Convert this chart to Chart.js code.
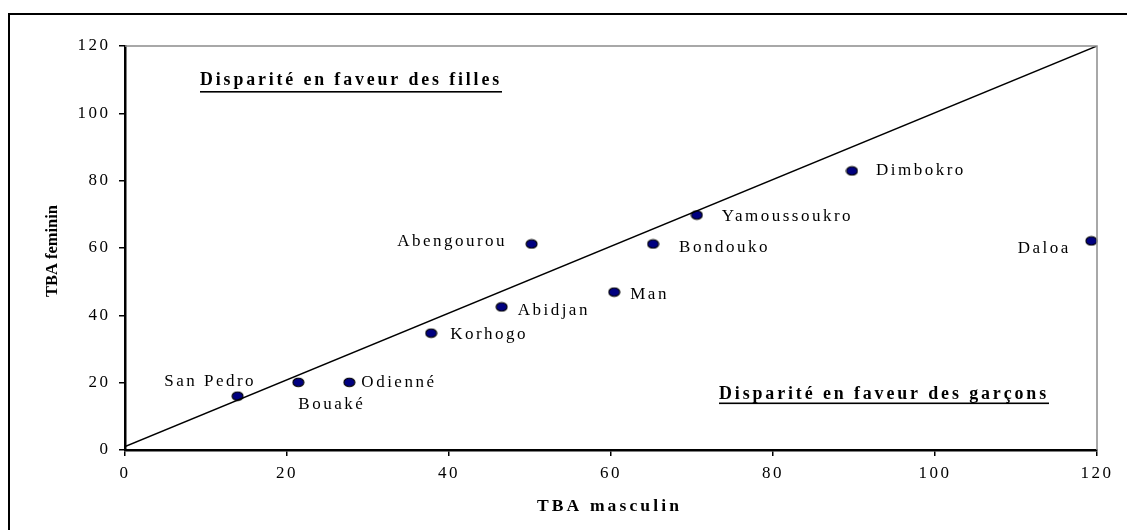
<!DOCTYPE html>
<html><head><meta charset="utf-8">
<script src="https://cdn.jsdelivr.net/npm/chart.js@4/dist/chart.umd.min.js"></script>
<style>html,body{margin:0;padding:0;background:#fff;overflow:hidden}#wrap{width:1127px;height:530px;position:relative}</style>
</head><body><div id="wrap"><canvas id="c" width="1127" height="530"></canvas></div>
<script>
const cities = ["San Pedro","Bouaké","Odienné","Korhogo","Abidjan","Abengourou","Man","Bondouko","Yamoussoukro","Dimbokro","Daloa"];
const tbaMasculin = [13.9, 21.4, 27.7, 37.8, 46.5, 50.2, 60.4, 65.2, 70.6, 89.75, 119.3];
const tbaFeminin  = [16.0, 20.1, 20.1, 34.7, 42.5, 61.2, 46.9, 61.2, 69.8, 82.9, 62.1];
const parityLineX = [0, 120];
const parityLineY = [1, 120];
const xTicks = [0, 20, 40, 60, 80, 100, 120];
const yTicks = [0, 20, 40, 60, 80, 100, 120];
const xTitle = "TBA masculin";
const yTitle = "TBA feminin";
const noteGirls = "Disparité en faveur des filles";
const noteBoys = "Disparité en faveur des garçons";

// label placement relative to point (style only)
const labelPos = {
  "San Pedro":[18.5,-15,'right'], "Bouaké":[0,22,'left'], "Odienné":[12,0,'left'],
  "Korhogo":[19,1,'left'], "Abidjan":[16,4,'left'], "Abengourou":[-24.5,-2,'right'],
  "Man":[16,2,'left'], "Bondouko":[26,4,'left'], "Yamoussoukro":[25,1.5,'left'],
  "Dimbokro":[24,0,'left'], "Daloa":[-20.5,7.5,'right']
};
const SERIF = '"Liberation Serif","DejaVu Serif",serif';
const SP = '2.5px';

// elliptical marker
const marker = document.createElement('canvas');
marker.width = 13; marker.height = 11;
(function(){ const m=marker.getContext('2d'); m.beginPath(); m.ellipse(6.5,5.5,5.5,4.3,0,0,Math.PI*2);
  m.fillStyle='#000080'; m.fill(); m.lineWidth=1.1; m.strokeStyle='#000'; m.stroke(); })();

const spacingPlugin = {
  id:'spacing',
  beforeLayout(chart){ chart.ctx.letterSpacing=SP; },
  beforeDraw(chart){
    const ctx=chart.ctx; ctx.letterSpacing=SP;
    ctx.save(); ctx.fillStyle='#fff'; ctx.fillRect(0,0,chart.width,chart.height); ctx.restore();
  },
  afterDraw(chart){
    const ctx=chart.ctx, a=chart.chartArea, xs=chart.scales.x, ys=chart.scales.y;
    ctx.save();
    // outer frame
    ctx.strokeStyle='#000'; ctx.lineWidth=2;
    ctx.beginPath(); ctx.moveTo(9,540); ctx.lineTo(9,14); ctx.lineTo(1140,14); ctx.stroke();
    // plot area top/right border (grey)
    ctx.strokeStyle='#8c8c8c'; ctx.lineWidth=1.5;
    ctx.beginPath(); ctx.moveTo(a.left,a.top); ctx.lineTo(a.right,a.top); ctx.lineTo(a.right,a.bottom); ctx.stroke();
    // point labels
    ctx.fillStyle='#000'; ctx.font='17px '+SERIF; ctx.textBaseline='middle'; ctx.letterSpacing=SP;
    cities.forEach((c,i)=>{
      const px=xs.getPixelForValue(tbaMasculin[i]), py=ys.getPixelForValue(tbaFeminin[i]);
      const p=labelPos[c]; ctx.textAlign=p[2];
      ctx.fillText(c, px+p[0], py+p[1]);
    });
    // notes
    ctx.font='bold 18px '+SERIF; ctx.letterSpacing='2.9px'; ctx.textAlign='left'; ctx.textBaseline='alphabetic';
    const drawNote=(t,x,y,uy,right)=>{
      const w=ctx.measureText(t).width; const sx=(right-x)/w;
      ctx.save(); ctx.translate(x,y); ctx.scale(sx,1); ctx.fillText(t,0,0); ctx.restore();
      ctx.fillRect(x,uy,right-x,1.6); };
    drawNote(noteGirls, 200, 85, 91, 502);
    drawNote(noteBoys, 719, 399, 402.5, 1049);
    // axis titles
    ctx.font='bold 17px '+SERIF; ctx.letterSpacing='3px'; ctx.textAlign='left'; ctx.textBaseline='alphabetic';
    let w=ctx.measureText(xTitle).width;
    ctx.save(); ctx.translate(537,511); ctx.scale(145/w,1); ctx.fillText(xTitle,0,0); ctx.restore();
    ctx.letterSpacing='0px';
    w=ctx.measureText(yTitle).width;
    ctx.save(); ctx.translate(57,297); ctx.rotate(-Math.PI/2); ctx.scale(92/w,1); ctx.fillText(yTitle,0,0); ctx.restore();
    ctx.restore();
  }
};

new Chart(document.getElementById('c'), {
  data:{ datasets:[
    { type:'line', data: parityLineX.map((x,i)=>({x, y:parityLineY[i]})), borderColor:'#000', borderWidth:1.5,
      pointRadius:0, fill:false, tension:0 },
    { type:'scatter', data: tbaMasculin.map((x,i)=>({x, y:tbaFeminin[i]})), pointStyle: marker,
      backgroundColor:'#000080', borderColor:'#000', pointRadius:5, clip:false }
  ]},
  options:{
    responsive:false, animation:false, devicePixelRatio:1,
    layout:{ padding:{ left:0, top:46, right:30, bottom:0 } },
    plugins:{ legend:{display:false}, tooltip:{enabled:false} },
    scales:{
      x:{ type:'linear', min:0, max:120, afterBuildTicks(s){ s.ticks=xTicks.map(v=>({value:v})); },
          afterFit(s){ s.height=80; },
          grid:{ drawOnChartArea:false, drawTicks:true, tickLength:6, color:'#000', lineWidth:1.5 },
          border:{ color:'#000', width:2.5 },
          ticks:{ color:'#000', font:{ family:SERIF, size:17 }, padding:7, maxRotation:0 } },
      y:{ type:'linear', min:0, max:120, afterBuildTicks(s){ s.ticks=yTicks.map(v=>({value:v})); },
          afterFit(s){ s.width=125; },
          grid:{ drawOnChartArea:false, drawTicks:true, tickLength:6, color:'#000', lineWidth:1.5 },
          border:{ color:'#000', width:2.5 },
          ticks:{ color:'#000', font:{ family:SERIF, size:17 }, padding:8.5 } }
    }
  },
  plugins:[spacingPlugin]
});
</script></body></html>
